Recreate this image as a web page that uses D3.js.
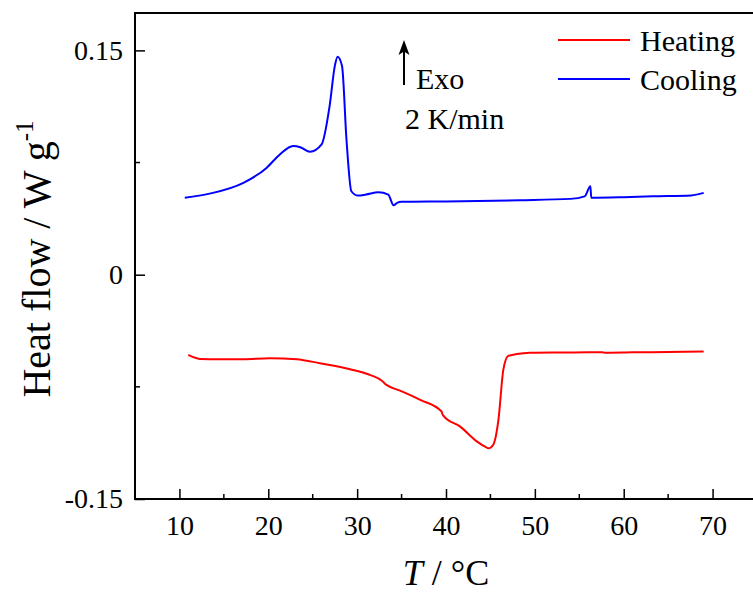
<!DOCTYPE html>
<html>
<head>
<meta charset="utf-8">
<script src="https://cdn.jsdelivr.net/npm/d3@7"></script>
<style>
  body { margin: 0; background: #fff; }
  text { font-family: "Liberation Serif", "Times New Roman", serif; fill: #000; }
</style>
</head>
<body>
<script>
const width = 753;
const height = 594;

// heating run (T in degC, heat flow in W/g)
const heatT = [11.0, 12.3, 14.5, 17.2, 20.2, 23.2, 25.8, 29.2, 31.5, 32.9, 33.1, 33.3, 35.0, 37.1, 39.5, 39.6, 39.7,
  41.6, 43.5, 44.4, 44.8, 45.3, 45.9, 46.45, 47.0, 47.95, 49.45, 52.8, 56.0, 57.6, 57.8, 61.0, 65.0, 69.0];
const heatQ = [-0.0536, -0.0563, -0.0566, -0.0565, -0.0558, -0.0565, -0.0592, -0.0632, -0.0672, -0.0715, -0.0728, -0.0737, -0.0780, -0.0837, -0.0915, -0.0932, -0.0942,
  -0.1016, -0.1116, -0.1150, -0.1161, -0.1139, -0.0971, -0.0636, -0.0543, -0.0531, -0.0522, -0.0520, -0.0519, -0.0518, -0.0522, -0.0519, -0.0517, -0.0514];

// cooling run
const coolT = [10.6, 13.4, 17.2, 19.8, 21.3, 22.8, 23.6, 24.7, 26.0, 26.9, 27.5, 27.8, 28.3, 28.8, 29.35, 30.1, 31.0, 32.4, 33.5,
  34.1, 34.5, 35.0, 40.0, 48.3, 54.0, 55.6, 56.25, 56.35, 60.0, 63.3, 67.6, 69.0];
const coolQ = [0.0514, 0.0542, 0.0614, 0.0714, 0.0804, 0.0860, 0.0852, 0.0822, 0.0871, 0.1127, 0.1400, 0.1458, 0.1395, 0.0904, 0.0558, 0.0529, 0.0536, 0.0551, 0.0536,
  0.0464, 0.0480, 0.0487, 0.0490, 0.0498, 0.0507, 0.0524, 0.0592, 0.0514, 0.0518, 0.0524, 0.0530, 0.0547];

const xTicks = [10, 20, 30, 40, 50, 60, 70];
const xMinor = [15, 25, 35, 45, 55, 65];
const yTicks = [-0.15, 0, 0.15];
const yMinor = [-0.075, 0.075];

const svg = d3.select("body").append("svg")
  .attr("width", width)
  .attr("height", height);

const plotL = 135, plotT = 13, plotB = 499, plotR = 757;

const x = d3.scaleLinear().domain([5, 75]).range([plotL, plotR]);
const y = d3.scaleLinear().domain([-0.15, 0.175]).range([plotB, plotT]);

// frame
svg.append("rect")
  .attr("x", plotL).attr("y", plotT)
  .attr("width", plotR - plotL).attr("height", plotB - plotT)
  .attr("fill", "none").attr("stroke", "#000").attr("stroke-width", 2);

const xAxis = svg.append("g").attr("transform", `translate(0,${plotB})`)
  .call(d3.axisBottom(x).tickValues(xTicks).tickSizeInner(-10).tickSizeOuter(0).tickPadding(16).tickFormat(d3.format("d")));
xAxis.append("g").selectAll("line").data(xMinor).join("line")
  .attr("x1", d => x(d)).attr("x2", d => x(d)).attr("y1", 0).attr("y2", -5)
  .attr("stroke", "#000").attr("stroke-width", 1.5);

const yAxis = svg.append("g").attr("transform", `translate(${plotL},0)`)
  .call(d3.axisLeft(y).tickValues(yTicks).tickSizeInner(-10).tickSizeOuter(0).tickPadding(12)
    .tickFormat(d => d === 0 ? "0" : d3.format(".2f")(d).replace("−", "-")));
yAxis.append("g").selectAll("line").data(yMinor).join("line")
  .attr("x1", 0).attr("x2", 5).attr("y1", d => y(d)).attr("y2", d => y(d))
  .attr("stroke", "#000").attr("stroke-width", 1.5);

svg.selectAll(".domain").remove();
svg.selectAll(".tick line").attr("stroke-width", 1.5);
svg.selectAll(".tick text").style("font-family", "Liberation Serif").style("font-size", "28px");

// curves
const line = d3.line().x(d => x(d[0])).y(d => y(d[1])).curve(d3.curveMonotoneX);

svg.append("path")
  .datum(heatT.map((t, i) => [t, heatQ[i]]))
  .attr("d", line)
  .attr("fill", "none").attr("stroke", "#ff0000").attr("stroke-width", 2);

svg.append("path")
  .datum(coolT.map((t, i) => [t, coolQ[i]]))
  .attr("d", line)
  .attr("fill", "none").attr("stroke", "#0000ff").attr("stroke-width", 2);

// axis titles
svg.append("text")
  .attr("x", 446).attr("y", 585)
  .attr("text-anchor", "middle")
  .style("font-size", "36px")
  .html('<tspan font-style="italic">T</tspan> / °C');

const yt = svg.append("text")
  .attr("transform", "translate(50,259) rotate(-90)")
  .attr("text-anchor", "middle")
  .style("font-size", "40px");
yt.append("tspan").text("Heat flow / W g");
yt.append("tspan").attr("dy", -17).style("font-size", "25px").text("-1");

// exo marker
svg.append("line")
  .attr("x1", 404).attr("x2", 404).attr("y1", 85).attr("y2", 50)
  .attr("stroke", "#000").attr("stroke-width", 2);
svg.append("path")
  .attr("d", "M404,40 L398.5,55 L404,51.5 L409.5,55 Z")
  .attr("fill", "#000");

svg.append("text").attr("x", 416).attr("y", 89).style("font-size", "30px").text("Exo");
svg.append("text").attr("x", 405).attr("y", 129).style("font-size", "30px").text("2 K/min");

// legend
const legend = [["Heating", "#ff0000"], ["Cooling", "#0000ff"]];
const lg = svg.append("g");
legend.forEach(([name, color], i) => {
  const ly = 40 + i * 39;
  lg.append("line").attr("x1", 558).attr("x2", 630).attr("y1", ly).attr("y2", ly)
    .attr("stroke", color).attr("stroke-width", 2);
  lg.append("text").attr("x", 640).attr("y", ly + 11).style("font-size", "30px").text(name);
});
</script>
</body>
</html>
